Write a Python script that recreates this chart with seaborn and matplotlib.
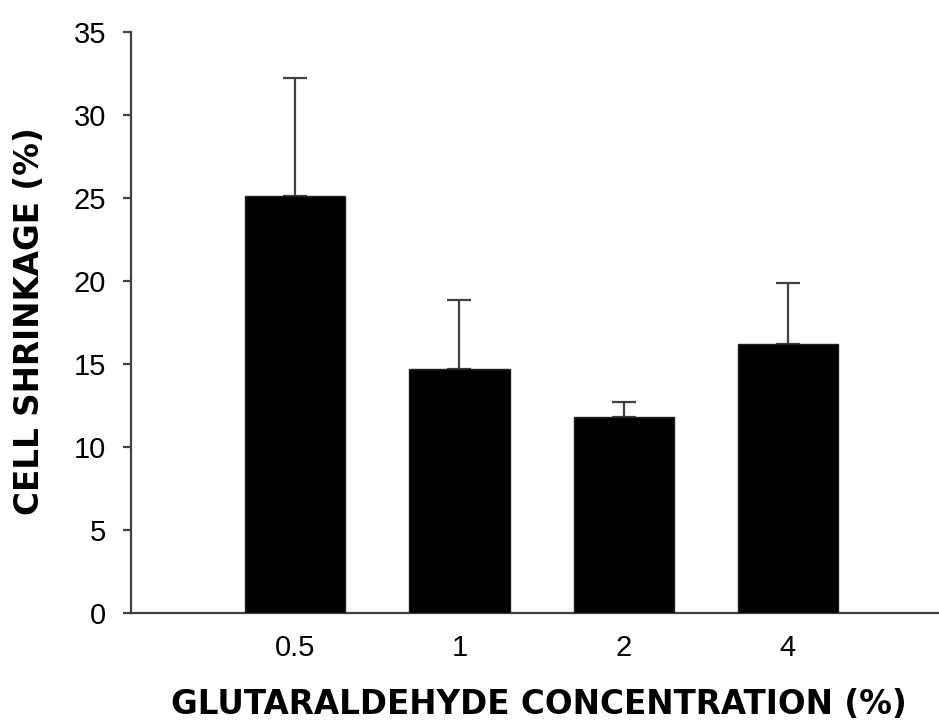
import matplotlib
matplotlib.use("Agg")
import matplotlib.pyplot as plt
import seaborn as sns
import pandas as pd

# Glutaraldehyde concentration groups and measured cell shrinkage
concentrations = ["0.5", "1", "2", "4"]
shrinkage = [25.1, 14.7, 11.8, 16.2]
shrinkage_err = [7.15, 4.15, 0.9, 3.7]

df = pd.DataFrame({"conc": concentrations, "shrink": shrinkage})

sns.set_theme(style="white")
plt.rcParams["font.family"] = ["Liberation Sans", "DejaVu Sans"]

fig = plt.figure(figsize=(9.39, 7.24), dpi=100)
ax = fig.add_axes([0.1395, 0.1533, 0.8605, 0.8025])

axis_grey = "#404040"

sns.barplot(data=df, x="conc", y="shrink", color="black", edgecolor="#202020",
            linewidth=1, width=0.61, saturation=1, ax=ax, zorder=3)

# one-sided (upper) error bars
ax.errorbar(range(len(concentrations)), shrinkage,
            yerr=[[0] * len(shrinkage_err), shrinkage_err],
            fmt="none", ecolor=axis_grey, elinewidth=1.6, capsize=8.5,
            capthick=1.6, zorder=2)

ax.set_ylim(0, 35)
ax.set_xlim(-1.0, 3.92)
ax.set_yticks(range(0, 36, 5))

for side in ("top", "right"):
    ax.spines[side].set_visible(False)
for side in ("left", "bottom"):
    ax.spines[side].set_color(axis_grey)
    ax.spines[side].set_linewidth(1.6)

ax.tick_params(axis="y", which="major", direction="out", length=6, width=1.6,
               color=axis_grey, left=True, pad=12, labelsize=21, labelcolor="black")
ax.tick_params(axis="x", which="major", length=0, pad=15, labelsize=21,
               labelcolor="black")

label_font = dict(family=["DejaVu Sans"], fontsize=23.5, fontweight="bold",
                  color="black")
ax.set_xlabel("GLUTARALDEHYDE CONCENTRATION (%)", **label_font)
ax.set_ylabel("CELL SHRINKAGE (%)", **label_font)
ax.xaxis.label.set_va("center")
ax.yaxis.label.set_va("center")
ax.xaxis.set_label_coords(0.505, -0.158)
ax.yaxis.set_label_coords(-0.126, 0.503)

fig.savefig("out.png", dpi=100, facecolor="white")
